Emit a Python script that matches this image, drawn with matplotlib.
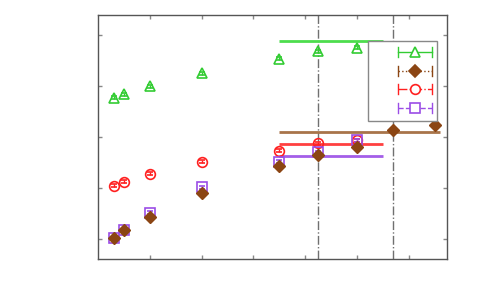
import matplotlib
matplotlib.use("Agg")
import matplotlib.pyplot as plt
from matplotlib.lines import Line2D
import numpy as np

# ---- data ----
x_short = [0.30, 0.50, 1.0, 2.0, 3.5, 4.25, 5.0]
x_long = [0.30, 0.50, 1.0, 2.0, 3.5, 4.25, 5.0, 5.70, 6.50]

green_y = [3.77, 3.84, 4.00, 4.25, 4.54, 4.69, 4.76]
brown_y = [1.02, 1.17, 1.43, 1.89, 2.42, 2.65, 2.81, 3.14, 3.24]
red_y = [2.04, 2.12, 2.28, 2.51, 2.73, 2.88, 2.94]
purple_y = [1.02, 1.18, 1.51, 2.01, 2.51, 2.70, 2.94]
err = 0.03

# reference levels (value, start, end)
green_level = (4.89, 3.5, 5.5)
brown_level = (3.09, 3.5, 6.61)
red_level = (2.87, 3.5, 5.5)
purple_level = (2.63, 3.5, 5.5)

vlines_x = [4.25, 5.70]

colors = {
    "green": "#33cc33",
    "brown": "#8b4513",
    "red": "#ff2020",
    "purple": "#9b4de6",
}
level_colors = {
    "green": "#4ddd4d",
    "brown": "#a8744a",
    "red": "#ff4040",
    "purple": "#a45ee8",
}

fig = plt.figure(figsize=(5, 3), dpi=100)
ax = fig.add_axes([0.196, 0.1367, 0.698, 0.8133])

for x in vlines_x:
    ax.axvline(x, color="#707070", lw=1, ls="-.", zorder=1)

for key, lvl in [("green", green_level), ("brown", brown_level),
                 ("red", red_level), ("purple", purple_level)]:
    ax.hlines(lvl[0], lvl[1], lvl[2], color=level_colors[key], lw=2, zorder=2)

ax.errorbar(x_short, green_y, yerr=err, fmt="^", ms=7, mfc="none",
            mec=colors["green"], mew=1.2, ecolor=colors["green"], elinewidth=1,
            capsize=2, zorder=3)
ax.errorbar(x_long, brown_y, yerr=err, fmt="D", ms=6, mfc=colors["brown"],
            mec=colors["brown"], ecolor=colors["brown"], elinewidth=1,
            capsize=2, zorder=4)
ax.errorbar(x_short, red_y, yerr=err, fmt="o", ms=7, mfc="none",
            mec=colors["red"], mew=1.2, ecolor=colors["red"], elinewidth=1,
            capsize=2, zorder=3)
ax.errorbar(x_short, purple_y, yerr=err, fmt="s", ms=6.5, mfc="none",
            mec=colors["purple"], mew=1.2, ecolor=colors["purple"], elinewidth=1,
            capsize=2, zorder=3)

ax.set_xlim(0, 6.74)
ax.set_ylim(0.6, 5.4)
ax.set_xticks([1, 2, 3, 4, 5, 6])
ax.set_yticks([1, 2, 3, 4, 5])
ax.tick_params(direction="in", length=3, width=1, color="#888888",
               top=True, right=True, labelbottom=False, labelleft=False)
for s in ax.spines.values():
    s.set_color("#555555")
    s.set_linewidth(1)


class ErrLineHandler:
    def __init__(self, color, ls, marker, filled, ms):
        self.color = color
        self.ls = ls
        self.marker = marker
        self.filled = filled
        self.ms = ms

    def legend_artist(self, legend, orig_handle, fontsize, handlebox):
        x0, y0 = handlebox.xdescent, handlebox.ydescent
        w, h = handlebox.width, handlebox.height
        yc = -y0 + h / 2
        xa, xb = -x0, -x0 + w
        tr = handlebox.get_transform()
        arts = [
            Line2D([xa, xb], [yc, yc], color=self.color, ls=self.ls, lw=1, transform=tr),
            Line2D([xa, xa], [yc - 3.5, yc + 3.5], color=self.color, lw=1, transform=tr),
            Line2D([xb, xb], [yc - 3.5, yc + 3.5], color=self.color, lw=1, transform=tr),
            Line2D([(xa + xb) / 2], [yc], marker=self.marker, ms=self.ms,
                   mfc=self.color if self.filled else "white", mec=self.color,
                   mew=1.2, ls="none", transform=tr),
        ]
        for a in arts:
            handlebox.add_artist(a)
        return arts[0]


handles = [Line2D([], []) for _ in range(4)]
hmap = {
    handles[0]: ErrLineHandler(colors["green"], "-", "^", False, 7),
    handles[1]: ErrLineHandler(colors["brown"], ":", "D", True, 6),
    handles[2]: ErrLineHandler(colors["red"], "-.", "o", False, 7),
    handles[3]: ErrLineHandler(colors["purple"], "--", "s", False, 6.5),
}
leg = ax.legend(handles, ["", "", "", ""], handler_map=hmap,
                loc="upper right", bbox_to_anchor=(0.972, 0.893),
                borderaxespad=0, markerfirst=False, handlelength=2.45,
                handletextpad=1.8, borderpad=0.35, labelspacing=0.33,
                fancybox=False, framealpha=1, edgecolor="#888888")
leg.get_frame().set_linewidth(1)

fig.savefig("out.png", dpi=100)
